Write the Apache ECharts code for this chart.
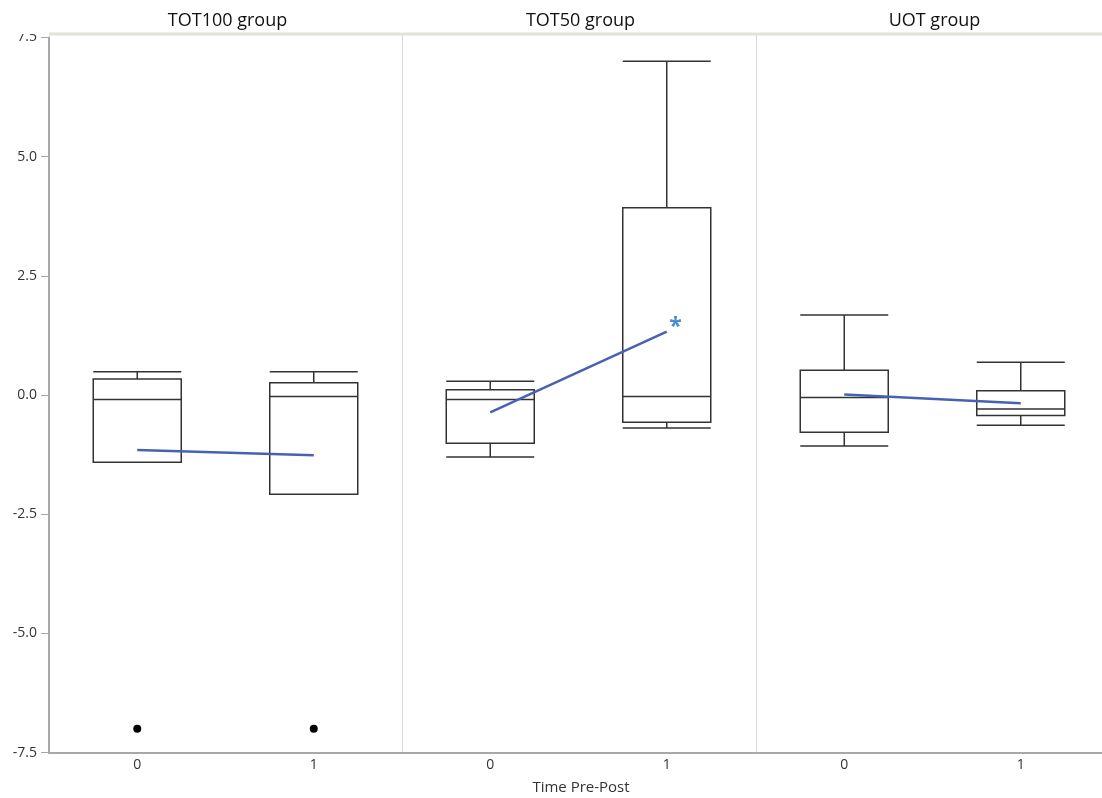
<!DOCTYPE html>
<html>
<head>
<meta charset="utf-8">
<script src="https://cdn.jsdelivr.net/npm/echarts@6/dist/echarts.min.js"></script>
<style>
  html, body { margin: 0; padding: 0; background: #fff; overflow: hidden; }
  #chart { width: 1110px; height: 798px; }
</style>
</head>
<body>
<div id="chart"></div>
<script>
// Panels and categories
const groups = ['TOT100 group', 'TOT50 group', 'UOT group'];
const timeCats = ['0', '1'];
const yTicks = [-7.5, -5.0, -2.5, 0.0, 2.5, 5.0, 7.5];

// Box summaries per panel: [lower whisker, Q1, median, Q3, upper whisker]
const tot100Box = [[-1.41, -1.41, -0.09, 0.34, 0.49], [-2.08, -2.08, -0.03, 0.26, 0.49]];
const tot50Box  = [[-1.30, -1.01, -0.09, 0.11, 0.29], [-0.69, -0.57, -0.03, 3.93, 7.00]];
const uotBox    = [[-1.07, -0.78, -0.05, 0.52, 1.68], [-0.63, -0.43, -0.29, 0.09, 0.69]];

// Outlying points: [category index, value]
const tot100Outliers = [[0, -7.0], [1, -7.0]];
const tot50Outliers = [];
const uotOutliers = [];

// Group means at each time point
const tot100Mean = [-1.15, -1.26];
const tot50Mean  = [-0.36, 1.33];
const uotMean    = [0.01, -0.17];

const boxes = [tot100Box, tot50Box, uotBox];
const outliers = [tot100Outliers, tot50Outliers, uotOutliers];
const means = [tot100Mean, tot50Mean, uotMean];
const flagged = [false, true, false];   // significant pre/post change

const FONT = '"Open Sans", "Noto Sans", sans-serif';
const panelLeft = [49, 402, 756];
const panelWidth = 353;
const plotTop = 37.5, plotBottom = 752.7;

const grids = [], xAxes = [], yAxes = [], series = [];
groups.forEach((g, i) => {
  grids.push({ left: panelLeft[i], top: plotTop, width: panelWidth, height: plotBottom - plotTop, containLabel: false });
  xAxes.push({
    type: 'category', gridIndex: i, data: timeCats,
    axisLine: { show: true, onZero: false, lineStyle: { color: '#a8a8a8', width: 2 } },
    axisTick: { show: false },
    axisLabel: { color: '#333', fontFamily: FONT, fontSize: 14, margin: 5 },
    splitLine: { show: false }
  });
  yAxes.push({
    type: 'value', gridIndex: i, min: yTicks[0], max: yTicks[yTicks.length - 1], interval: 2.5,
    axisLine: { show: i === 0, lineStyle: { color: '#a8a8a8', width: 2 } },
    axisTick: { show: i === 0, length: 8, lineStyle: { color: '#a8a8a8', width: 1 } },
    axisLabel: {
      show: i === 0, color: '#333', fontFamily: FONT, fontSize: 14, margin: 12,
      formatter: v => v.toFixed(1)
    },
    splitLine: { show: false }
  });
  series.push({
    type: 'boxplot', xAxisIndex: i, yAxisIndex: i,
    data: boxes[i],
    boxWidth: [88, 88],
    itemStyle: { color: '#fff', borderColor: '#333', borderWidth: 1.5 },
    emphasis: { disabled: true },
    z: 2
  });
  series.push({
    type: 'scatter', xAxisIndex: i, yAxisIndex: i,
    data: outliers[i], symbol: 'circle', symbolSize: 8,
    itemStyle: { color: '#000', opacity: 1 }, emphasis: { disabled: true }, z: 3
  });
  series.push({
    type: 'line', xAxisIndex: i, yAxisIndex: i,
    data: means[i],
    showSymbol: false, symbol: 'none',
    lineStyle: { color: '#4862b3', width: 2.5 },
    z: 4, silent: true
  });
  if (flagged[i]) {
    // asterisk next to the post-time mean
    series.push({
      type: 'scatter', xAxisIndex: i, yAxisIndex: i,
      data: [[1, means[i][1]]], symbol: 'circle', symbolSize: 1,
      itemStyle: { color: 'rgba(0,0,0,0)' },
      label: {
        show: true, formatter: '*', position: 'right', distance: 2, offset: [0, -4],
        color: '#1a6fc4', fontSize: 23, fontWeight: 'bold', fontFamily: FONT
      },
      z: 5, silent: true
    });
  }
});

const chart = echarts.init(document.getElementById('chart'), null, { renderer: 'canvas' });
chart.setOption({
  animation: false,
  backgroundColor: '#fff',
  grid: grids,
  xAxis: xAxes,
  yAxis: yAxes,
  series: series,
  title: groups.map((g, i) => ({
    text: g, left: panelLeft[i] + panelWidth / 2 - 3, top: 7, textAlign: 'center',
    textStyle: { fontFamily: FONT, fontSize: 18, fontWeight: 'normal', color: '#111' }
  })).concat([{
    text: 'Time Pre-Post', left: 576, top: 775, textAlign: 'center',
    textStyle: { fontFamily: FONT, fontSize: 15, fontWeight: 'normal', color: '#333' }
  }]),
  graphic: [
    // header rule across the top of the plot area
    { type: 'rect', shape: { x: 49, y: 32.5, width: 1061, height: 3 }, style: { fill: '#e3e2d6' }, z: 100 },
    { type: 'rect', shape: { x: 0, y: 22, width: 48, height: 12 }, style: { fill: '#fff' }, z: 100 },
    // panel dividers
    { type: 'line', shape: { x1: 402.5, y1: 35, x2: 402.5, y2: 752 }, style: { stroke: '#d9d9d9', lineWidth: 1 }, z: 1 },
    { type: 'line', shape: { x1: 756.5, y1: 35, x2: 756.5, y2: 752 }, style: { stroke: '#d9d9d9', lineWidth: 1 }, z: 1 }
  ]
});
</script>
</body>
</html>
